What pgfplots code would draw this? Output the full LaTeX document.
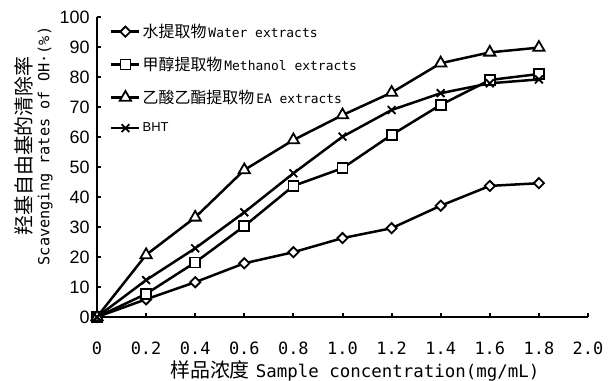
\documentclass[border=0pt]{standalone}
\usepackage{fontspec}
\setmainfont{Liberation Sans}
\newfontfamily\cjk{Noto Sans CJK SC}
\newfontfamily\mono{DejaVu Sans Mono}
\usepackage{pgfplots}
\pgfplotsset{compat=1.18}
\begin{document}
\begin{tikzpicture}
\begin{axis}[
  at={(0,0)}, anchor=south west,
  scale only axis, width=491bp, height=300bp,
  xmin=0, xmax=2, ymin=0, ymax=100,
  axis x line=bottom, axis y line=left,
  axis line style={-, line width=2.5bp},
  tick align=inside, major tick length=4bp,
  tick style={line width=2bp, black},
  xtick={0,0.2,0.4,0.6,0.8,1.0,1.2,1.4,1.6,1.8,2.0},
  xticklabels={0,0.2,0.4,0.6,0.8,1.0,1.2,1.4,1.6,1.8,2.0},
  ytick={0,10,20,30,40,50,60,70,80,90,100},
  yticklabels={0,10,20,30,40,50,60,70,80,90,100},
  xticklabel style={font=\mono\fontsize{17}{17}\selectfont, anchor=base, yshift=-37bp},
  yticklabel style={font=\fontsize{18}{18}\selectfont, anchor=east, xshift=-4bp},
  xlabel={{\cjk\fontsize{20}{20}\selectfont 样品浓度}\hspace{6bp}{\mono\fontsize{17.5}{17.5}\selectfont Sample concentration(mg/mL)}},
  xlabel style={at={(axis description cs:0.525,-0.2)}, anchor=base},
  ylabel={{\cjk\fontsize{20}{20}\selectfont 羟基自由基的清除率}\\{\mono\fontsize{15.3}{15.3}\selectfont Scavenging rates of OH·(\%)}},
  ylabel style={at={(axis description cs:-0.083,0.57)}, anchor=south, align=center,
    font=\fontsize{15}{18}\selectfont},
  clip=false,
  every axis plot/.append style={line width=2.5bp, black},
  legend cell align=left,
  legend style={draw=none, fill=none, at={(axis description cs:0,1)}, anchor=north west,
    xshift=13bp, yshift=-5bp, row sep=14bp, inner sep=0pt,
    nodes={inner sep=2bp}},
  legend image code/.code={\draw[mark repeat=2,mark phase=2] plot coordinates {(0bp,0bp)(14bp,0bp)(28bp,0bp)};},
]
\addplot[mark=square*, mark size=3.6bp, mark options={rotate=45, fill=white, solid, line width=1.8bp}]
 coordinates {(0,0)(0.2,5.9)(0.4,11.6)(0.6,17.9)(0.8,21.6)(1.0,26.3)(1.2,29.6)(1.4,37.1)(1.6,43.7)(1.8,44.6)};
\addlegendentry{{\cjk\fontsize{16}{16}\selectfont 水提取物}{\mono\fontsize{13}{13}\selectfont\hspace{2bp}Water extracts}}
\addplot[mark=square*, mark size=5bp, mark options={fill=white, solid, line width=1.8bp}]
 coordinates {(0,0)(0.2,7.7)(0.4,18.2)(0.6,30.3)(0.8,43.7)(1.0,49.6)(1.2,60.7)(1.4,70.7)(1.6,79)(1.8,81)};
\addlegendentry{{\cjk\fontsize{16}{16}\selectfont 甲醇提取物}{\mono\fontsize{13}{13}\selectfont\hspace{2bp}Methanol extracts}}
\addplot[mark=triangle*, mark size=6.5bp, mark options={fill=white, solid, line width=1.8bp}]
 coordinates {(0,0)(0.2,20.7)(0.4,33.2)(0.6,49)(0.8,59)(1.0,67.3)(1.2,74.8)(1.4,84.6)(1.6,88.2)(1.8,89.8)};
\addlegendentry{{\cjk\fontsize{16}{16}\selectfont 乙酸乙酯提取物}{\mono\fontsize{13}{13}\selectfont\hspace{2bp}EA extracts}}
\addplot[mark=x, mark size=5.5bp, mark options={solid, line width=1.8bp}]
 coordinates {(0,0)(0.2,12.3)(0.4,22.9)(0.6,34.9)(0.8,47.9)(1.0,60.1)(1.2,69)(1.4,74.6)(1.6,77.9)(1.8,79.2)};
\addlegendentry{{\fontsize{13}{13}\selectfont BHT}}
\end{axis}
\pgfresetboundingbox
\path[use as bounding box] (-97bp,-64bp) rectangle (515bp,317bp);
\end{tikzpicture}
\end{document}
